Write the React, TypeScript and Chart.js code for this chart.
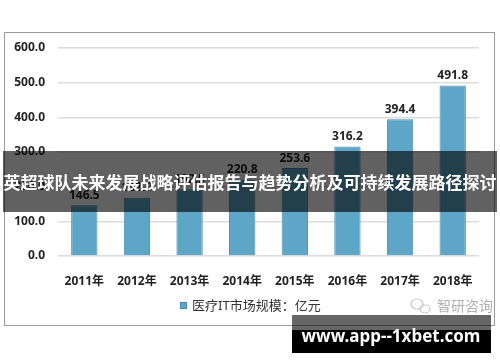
import React, { useEffect, useRef } from "react";
import { Chart, registerables } from "chart.js";

Chart.register(...registerables);

const categories = ["2011年", "2012年", "2013年", "2014年", "2015年", "2016年", "2017年", "2018年"];
const marketSize = [146.5, 168.0, 192.5, 220.8, 253.6, 316.2, 394.4, 491.8];
const seriesLabel = "医疗IT市场规模：亿元";
const bannerText = "英超球队未来发展战略评估报告与趋势分析及可持续发展路径探讨";
const footerText = "www.app--1xbet.com";
const watermarkText = "智研咨询";

const FONT = "'Noto Sans', 'Noto Sans CJK SC', sans-serif";

const overlayPlugin = {
  id: "overlay",
  beforeDraw(chart: any) {
    const ctx = chart.ctx;
    ctx.save();
    ctx.fillStyle = "#ffffff";
    ctx.fillRect(0, 0, chart.width, chart.height);
    ctx.strokeStyle = "#9a9a9a";
    ctx.lineWidth = 1;
    ctx.strokeRect(4.5, 32.5, 490, 293);
    ctx.restore();
  },
  afterDatasetsDraw(chart: any) {
    const ctx = chart.ctx;
    const meta = chart.getDatasetMeta(0);
    ctx.save();
    // data labels
    ctx.font = `bold 12px ${FONT}`;
    ctx.fillStyle = "#222222";
    ctx.textAlign = "center";
    ctx.textBaseline = "bottom";
    meta.data.forEach((bar: any, i: number) => {
      const v = chart.data.datasets[0].data[i] as number;
      ctx.fillText(v.toFixed(1), bar.x, bar.y - 4);
    });
    // legend
    const ds = chart.data.datasets[0];
    ctx.fillStyle = "#5ea6c8";
    ctx.fillRect(180, 302, 7, 7);
    ctx.strokeStyle = "#4a89ad";
    ctx.lineWidth = 1;
    ctx.strokeRect(180.5, 302.5, 6, 6);
    ctx.fillStyle = "#333333";
    ctx.font = `13px ${FONT}`;
    ctx.textAlign = "left";
    ctx.textBaseline = "middle";
    ctx.fillText(ds.label, 192, 306);
    // watermark
    ctx.fillStyle = "#b0b0b0";
    ctx.font = `14px ${FONT}`;
    ctx.fillText(watermarkText, 437, 307);
    ctx.strokeStyle = "#c8c8c8";
    ctx.lineWidth = 1.2;
    ctx.beginPath();
    ctx.ellipse(417, 304, 6, 5, 0, 0, Math.PI * 2);
    ctx.stroke();
    ctx.beginPath();
    ctx.ellipse(425, 309, 5, 4, 0, 0, Math.PI * 2);
    ctx.stroke();
    // banner
    ctx.fillStyle = "rgba(0,0,0,0.62)";
    ctx.fillRect(3, 151, 494, 61);
    ctx.fillStyle = "#ffffff";
    ctx.font = `bold 17px 'Noto Sans CJK SC', sans-serif`;
    ctx.textAlign = "center";
    ctx.textBaseline = "middle";
    ctx.fillText(bannerText, 250, 183);
    // footer box
    ctx.fillStyle = "rgba(0,0,0,0.6)";
    ctx.fillRect(292, 315, 199, 15);
    ctx.fillStyle = "#000000";
    ctx.fillRect(292, 330, 199, 23);
    ctx.fillStyle = "#ffffff";
    ctx.font = `bold 17px ${FONT}`;
    ctx.fillText(footerText, 391, 337);
    ctx.restore();
  },
};

export default function App() {
  const ref = useRef<HTMLCanvasElement | null>(null);
  useEffect(() => {
    if (!ref.current) return;
    const chart = new Chart(ref.current, {
      type: "bar",
      data: {
        labels: categories,
        datasets: [
          {
            label: seriesLabel,
            data: marketSize,
            backgroundColor: "#5ea6c8",
            borderColor: "#4a89ad",
            borderWidth: 1,
            barPercentage: 0.5,
            categoryPercentage: 1,
          },
        ],
      },
      options: {
        responsive: false,
        animation: false,
        layout: { padding: { left: 0, right: 21, top: 48, bottom: 0 } },
        plugins: { legend: { display: false }, tooltip: { enabled: false } },
        scales: {
          x: {
            grid: { display: false },
            border: { display: false },
            ticks: { font: { family: FONT, size: 12, weight: "bold" }, color: "#222222", padding: 10 },
            afterFit(scale: any) {
              scale.height = 106;
            },
          },
          y: {
            min: 0,
            max: 600,
            border: { display: false },
            grid: { color: "#dcdcdc", lineWidth: 1.5, drawTicks: false },
            ticks: {
              stepSize: 100,
              padding: 13,
              font: { family: FONT, size: 12, weight: "bold" },
              color: "#222222",
              callback: (v: any) => Number(v).toFixed(1),
            },
            afterFit(scale: any) {
              scale.width = 58;
            },
          },
        },
      },
      plugins: [overlayPlugin],
    });
    return () => chart.destroy();
  }, []);
  return (
    <div style={{ position: "fixed", left: 0, top: 0, width: 500, height: 362 }}>
      <canvas ref={ref} width={500} height={362} style={{ display: "block" }} />
    </div>
  );
}
